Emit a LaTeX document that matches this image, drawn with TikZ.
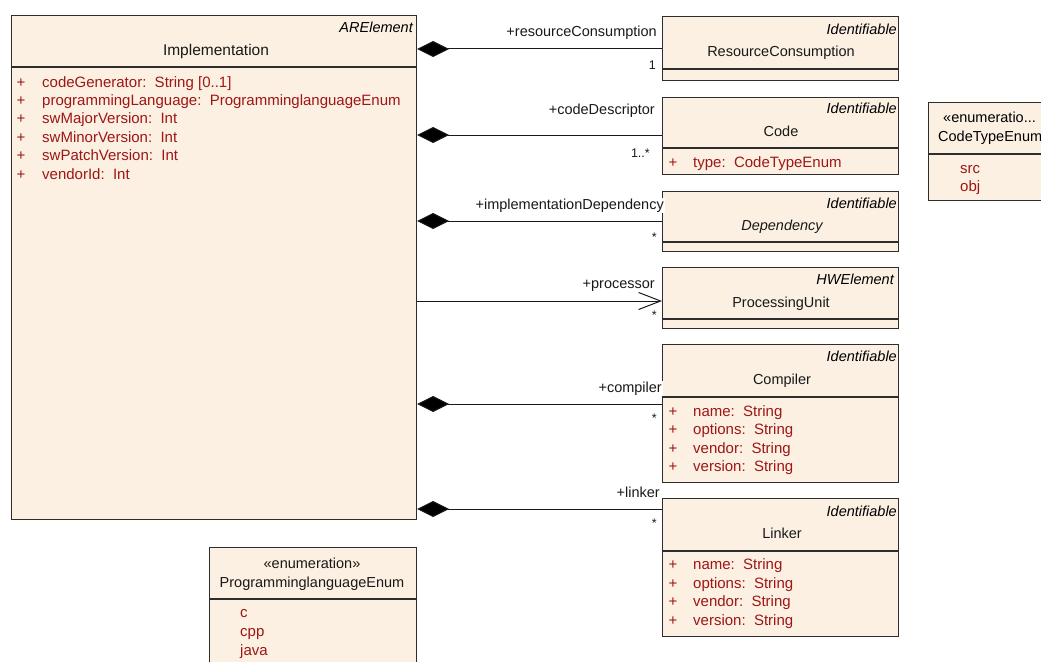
\documentclass[tikz,border=0pt]{standalone}
\usepackage{fontspec}
\setmainfont{Liberation Sans}
\usetikzlibrary{arrows.meta}
\definecolor{boxfill}{RGB}{251,240,226}
\definecolor{boxline}{RGB}{45,45,45}
\definecolor{attrred}{RGB}{158,22,22}
\begin{document}
\begin{tikzpicture}[x=1pt,y=-1pt,
  font=\fontsize{14.5}{16}\selectfont,
  classbox/.style={draw=boxline, fill=boxfill, line width=1.2pt, anchor=north west, inner sep=0pt},
  sepline/.style={draw=boxline, line width=1.2pt},
  txt/.style={inner sep=0pt, yshift=-2.5pt},
  stereo/.style={txt, anchor=mid east, font=\fontsize{14.5}{16}\selectfont\itshape},
  cname/.style={txt, anchor=mid, text=black!90},
  attrplus/.style={txt, anchor=mid, text=attrred, font=\fontsize{15}{17}\selectfont},
  attrtext/.style={txt, anchor=mid west, text=attrred, font=\fontsize{15}{17}\selectfont},
  role/.style={txt, anchor=mid east, text=black!90},
  rolebg/.style={role, fill=white, inner sep=1pt},
  mult/.style={txt, anchor=mid east, text=black!90, font=\fontsize{12.5}{14}\selectfont},
  comp/.style={line width=1pt, draw=black!90, -{Diamond[length=32pt,width=16pt,fill=black]}},
  nav/.style={line width=1pt, draw=black!90, -{Straight Barb[length=22pt,width=17pt,line width=1pt]}}
]
\useasboundingbox (0,0) rectangle (1041,661);
\clip (0,0) rectangle (1041,661);

% Implementation class
\node[classbox, minimum width=405pt, minimum height=504pt] (impl) at (11,15) {};
\draw[sepline] (impl.west |- 0,67) -- (impl.east |- 0,67);
\node[stereo] (implst) at (413,27) {ARElement};
\node[cname, font=\fontsize{15.5}{17}\selectfont] (implname) at (216,50) {Implementation};
\foreach \yy/\txt [count=\i] in {82/{codeGenerator:\ \ String [0..1]},
    100/{programmingLanguage:\ \ ProgramminglanguageEnum},
    118/{swMajorVersion:\ \ Int},
    137/{swMinorVersion:\ \ Int},
    155/{swPatchVersion:\ \ Int},
    174/{vendorId:\ \ Int}}{
  \node[attrplus] (implp\i) at (21,\yy) {+};
  \node[attrtext] (impla\i) at (42,\yy) {\txt};
}

% ResourceConsumption
\node[classbox, minimum width=236pt, minimum height=64pt] (rc) at (662,16) {};
\draw[sepline] (rc.west |- 0,69) -- (rc.east |- 0,69);
\node[stereo] (rcst) at (897,29) {Identifiable};
\node[cname] (rcname) at (781,51) {ResourceConsumption};

% Code
\node[classbox, minimum width=236pt, minimum height=77pt] (code) at (662,97) {};
\draw[sepline] (code.west |- 0,148) -- (code.east |- 0,148);
\node[stereo] (codest) at (897,108) {Identifiable};
\node[cname] (codename) at (781,131) {Code};
\node[attrplus] (codep1) at (673,162) {+};
\node[attrtext] (codea1) at (693,162) {type:\ \ CodeTypeEnum};

% Dependency
\node[classbox, minimum width=236pt, minimum height=60pt] (dep) at (662,191) {};
\draw[sepline] (dep.west |- 0,242) -- (dep.east |- 0,242);
\node[stereo] (depst) at (897,203) {Identifiable};
\node[cname, font=\fontsize{14.5}{16}\selectfont\itshape] (depname) at (782,225) {Dependency};

% ProcessingUnit
\node[classbox, minimum width=236pt, minimum height=61pt] (pu) at (662,267) {};
\draw[sepline] (pu.west |- 0,319) -- (pu.east |- 0,319);
\node[stereo] (pust) at (894,279) {HWElement};
\node[cname] (puname) at (781,302) {ProcessingUnit};

% Compiler
\node[classbox, minimum width=236pt, minimum height=138pt] (comp) at (662,344) {};
\draw[sepline] (comp.west |- 0,397) -- (comp.east |- 0,397);
\node[stereo] (compst) at (897,356) {Identifiable};
\node[cname] (compname) at (782,379) {Compiler};
\foreach \yy/\txt [count=\i] in {411/{name:\ \ String}, 429/{options:\ \ String},
    448/{vendor:\ \ String}, 466/{version:\ \ String}}{
  \node[attrplus] (compp\i) at (673,\yy) {+};
  \node[attrtext] (compa\i) at (693,\yy) {\txt};
}

% Linker
\node[classbox, minimum width=236pt, minimum height=138pt] (lnk) at (662,498) {};
\draw[sepline] (lnk.west |- 0,551) -- (lnk.east |- 0,551);
\node[stereo] (lnkst) at (897,511) {Identifiable};
\node[cname] (lnkname) at (782,533) {Linker};
\foreach \yy/\txt [count=\i] in {564/{name:\ \ String}, 583/{options:\ \ String},
    601/{vendor:\ \ String}, 620/{version:\ \ String}}{
  \node[attrplus] (lnkp\i) at (673,\yy) {+};
  \node[attrtext] (lnka\i) at (693,\yy) {\txt};
}

% ProgramminglanguageEnum
\node[classbox, minimum width=207pt, minimum height=150pt] (ple) at (209,547) {};
\draw[sepline] (ple.west |- 0,599) -- (ple.east |- 0,599);
\node[cname] (plest) at (312,563) {«enumeration»};
\node[cname] (plename) at (312,582) {ProgramminglanguageEnum};
\node[attrtext] (plec) at (240,612) {c};
\node[attrtext] (plecpp) at (240,631) {cpp};
\node[attrtext] (plejava) at (240,650) {java};

% CodeTypeEnum
\node[classbox, minimum width=160pt, minimum height=98pt] (cte) at (928,102) {};
\draw[sepline] (cte.west |- 0,154) -- (cte.east |- 0,154);
\node[txt, anchor=mid west] (ctest) at (943,117) {«enumeratio...};
\node[txt, anchor=mid west] (ctename) at (938,136) {CodeTypeEnum};
\node[attrtext] (ctesrc) at (960,168) {src};
\node[attrtext] (cteobj) at (960,186) {obj};

% Associations
\draw[comp] (rc.west |- 0,49) -- (impl.east |- 0,49);
\node[role] (rcrole) at (657,31) {+resourceConsumption};
\node[mult] (rcmult) at (656,64) {1};

\draw[comp] (code.west |- 0,135) -- (impl.east |- 0,135);
\node[role] (coderole) at (655,109) {+codeDescriptor};
\node[mult] (codemult) at (650,152) {1..*};

\draw[comp] (dep.west |- 0,221) -- (impl.east |- 0,221);
\node[rolebg] (deprole) at (665,204) {+implementationDependency};
\node[mult] (depmult) at (657,236) {*};

\draw[nav] (impl.east |- 0,301) -- (pu.west |- 0,301);
\node[role] (purole) at (655,283) {+processor};
\node[mult] (pumult) at (657,314) {*};

\draw[comp] (comp.west |- 0,404) -- (impl.east |- 0,404);
\node[rolebg] (comprole) at (663,387) {+compiler};
\node[mult] (compmult) at (657,417) {*};

\draw[comp] (lnk.west |- 0,509) -- (impl.east |- 0,509);
\node[role] (lnkrole) at (660,492) {+linker};
\node[mult] (lnkmult) at (657,522) {*};
\end{tikzpicture}
\end{document}
